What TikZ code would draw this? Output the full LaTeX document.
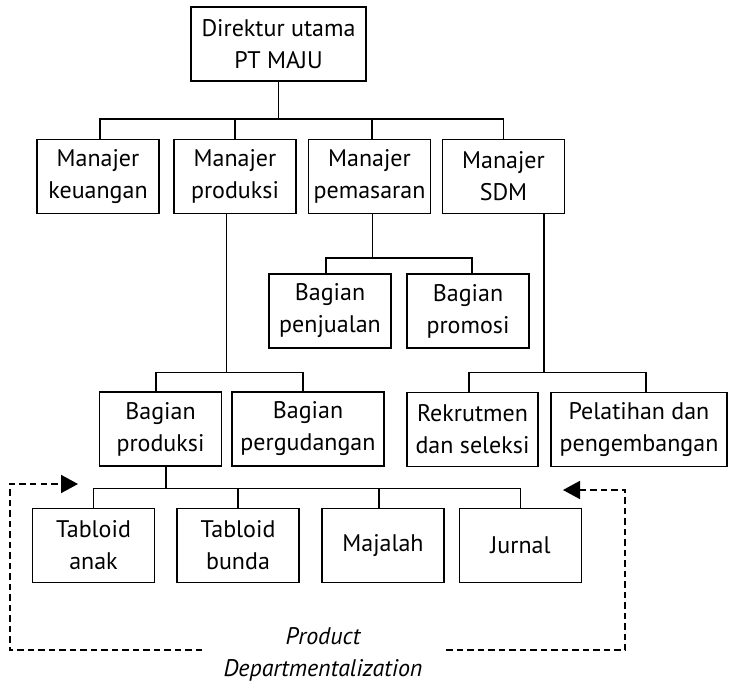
\documentclass[tikz,border=0pt]{standalone}
\usepackage{fontspec}
\setmainfont{PT Sans}
\usetikzlibrary{arrows.meta,calc}
\begin{document}
\begin{tikzpicture}[x=1pt,y=-1pt,
  unit/.style={draw, line width=1.8pt, align=center, minimum width=122pt,
    minimum height=74pt, inner sep=0pt, font=\fontsize{24}{32}\selectfont},
  link/.style={line width=1.8pt},
  loop/.style={line width=1.8pt, dash pattern=on 6.5pt off 4pt},
  tip/.style={-{Triangle[length=17pt,width=18pt]}}
]
\useasboundingbox (0,0) rectangle (732,683);

% bus levels
\coordinate (bus1) at (0,119);
\coordinate (bus2) at (0,258);
\coordinate (bus3) at (0,372.5);
\coordinate (bus4) at (0,488.5);

% top
\node[unit, minimum width=175pt] (dir) at (278.5,44) {Direktur utama\\PT MAJU};

% managers
\node[unit] (mk) at (98,176.5) {Manajer\\keuangan};
\node[unit] (mp) at (235,176.5) {Manajer\\produksi};
\node[unit] (mm) at (369.5,176.5) {Manajer\\pemasaran};
\node[unit] (ms) at (503.5,176.5) {Manajer\\SDM};

% marketing units
\node[unit] (bj) at (330,311) {Bagian\\penjualan};
\node[unit] (bpr) at (468,311) {Bagian\\promosi};

% production and HR units
\node[unit] (bp) at (160.5,429) {Bagian\\produksi};
\node[unit, minimum width=152pt] (bg) at (308,429) {Bagian\\pergudangan};
\node[unit, minimum width=131pt] (rk) at (472.5,429.5) {Rekrutmen\\dan seleksi};
\node[unit, minimum width=176pt] (pl) at (639,429.5) {Pelatihan dan\\pengembangan};

% products
\node[unit] (ta) at (93.5,545.5) {Tabloid\\anak};
\node[unit] (tb) at (238,545.5) {Tabloid\\bunda};
\node[unit] (mj) at (383,545.5) {Majalah};
\node[unit] (jr) at (520.5,545.5) {Jurnal};

% director -> managers
\draw[link] (dir.south) -- (dir.south |- bus1);
\draw[link] ([xshift=2pt]mk.north) |- (ms.north |- bus1) -- (ms.north);
\draw[link] (mp.north) -- (mp.north |- bus1);
\draw[link] ([xshift=2.5pt]mm.north) -- ([xshift=2.5pt]mm.north |- bus1);

% marketing
\draw[link] ([xshift=3pt]mm.south) -- ([xshift=3pt]mm.south |- bus2);
\draw[link] ([xshift=-4pt]bj.north) |- ([xshift=4pt]bpr.north |- bus2) -- ([xshift=4pt]bpr.north);

% production
\draw[link] ([xshift=-8.5pt]mp.south) -- ([xshift=-8.5pt]mp.south |- bus3);
\draw[link] ([xshift=-4.5pt]bp.north) |- ([xshift=-5pt]bg.north |- bus3) -- ([xshift=-5pt]bg.north);

% human resources
\draw[link] ([xshift=40.5pt]ms.south) -- ([xshift=40.5pt]ms.south |- bus3);
\draw[link] ([xshift=-3.5pt]rk.north) |- ([xshift=7pt]pl.north |- bus3) -- ([xshift=7pt]pl.north);

% production section -> products
\draw[link] ([xshift=5.5pt]bp.south) -- ([xshift=5.5pt]bp.south |- bus4);
\draw[link] (ta.north) |- (jr.north |- bus4) -- (jr.north);
\draw[link] (tb.north) -- (tb.north |- bus4);
\draw[link] ([xshift=-4pt]mj.north) -- ([xshift=-4pt]mj.north |- bus4);

% departmentalization loop
\coordinate (lEnd) at (202,650);
\coordinate (lTip) at (78,484);
\coordinate (rEnd) at (446,650);
\coordinate (rTip) at (563,490);
\draw[loop, tip] (lEnd) -- (10,650) -- (10,484) -- (lTip);
\draw[loop, tip] (rEnd) -- (625,650) -- (625,490) -- (rTip);

\node[align=center, inner sep=0pt, font=\itshape\fontsize{24}{32}\selectfont] (lab) at (323,654) {Product\\Departmentalization};
\end{tikzpicture}
\end{document}
